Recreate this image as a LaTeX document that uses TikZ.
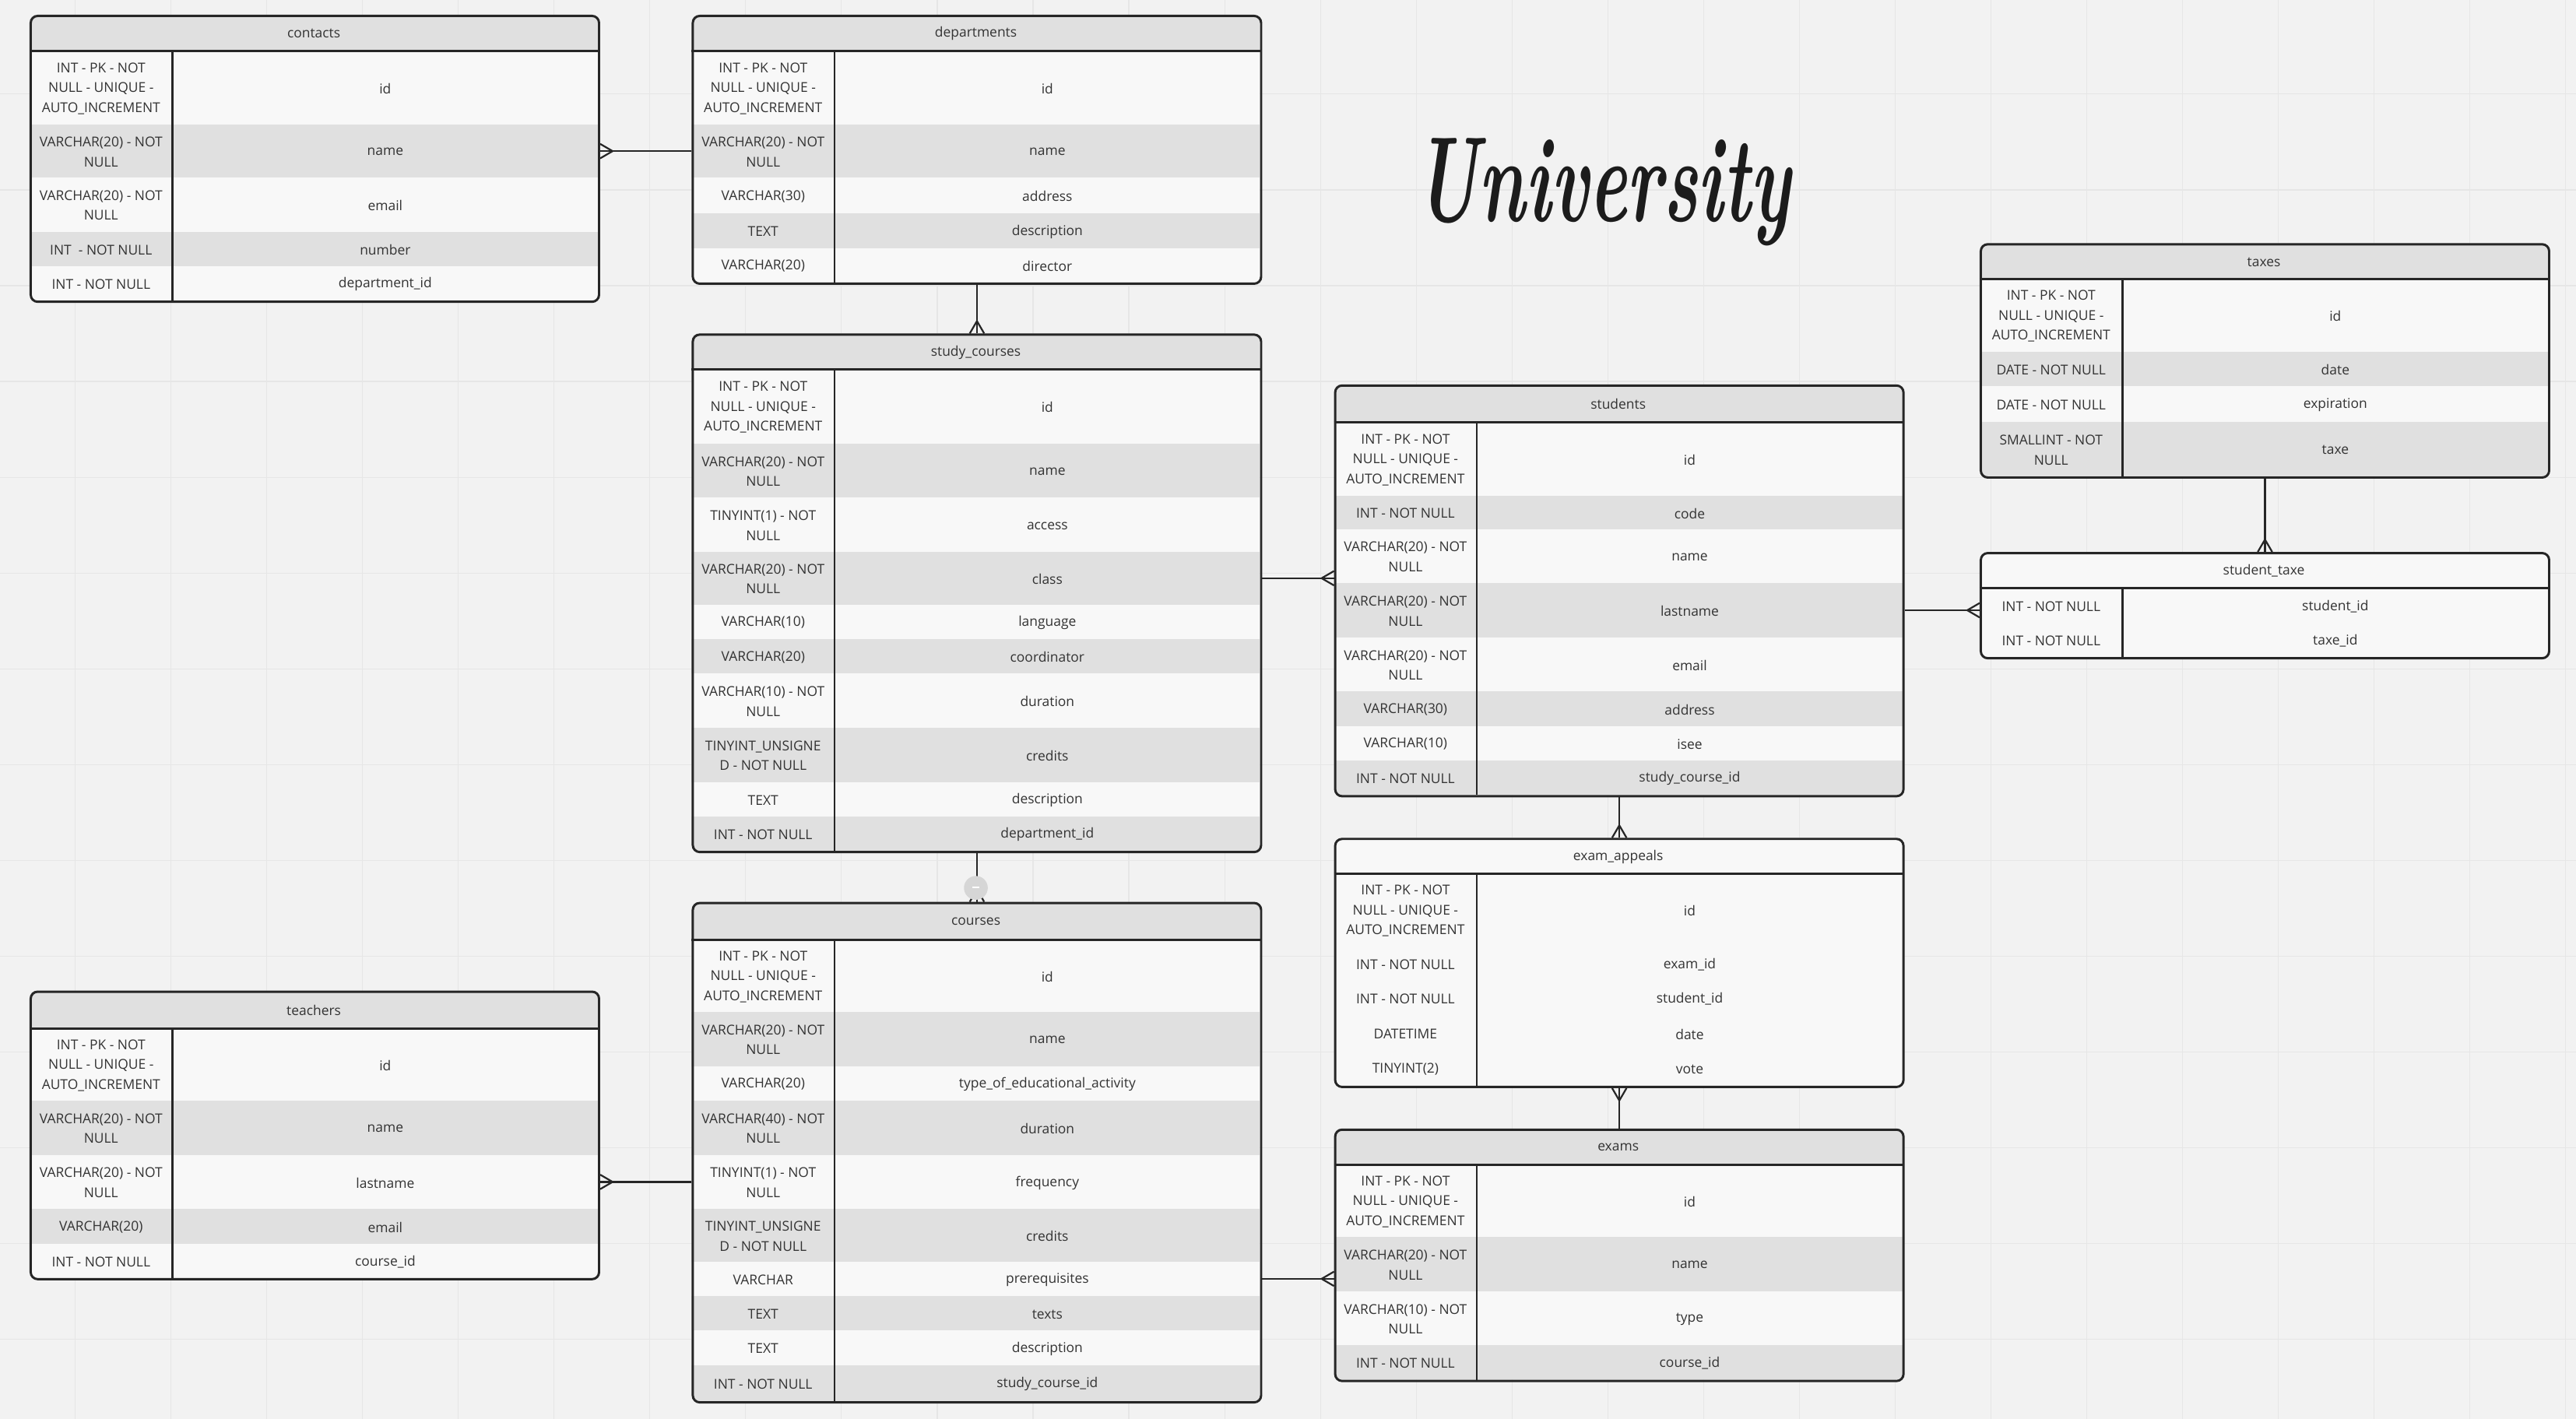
\documentclass[tikz,border=0pt]{standalone}
\usepackage{fontspec}
\usepackage{graphicx}
\newfontfamily\osans{Open Sans}
\usetikzlibrary{arrows.meta}
\definecolor{bg}{HTML}{F2F2F2}
\definecolor{gridc}{HTML}{E6E6E6}
\definecolor{rowA}{HTML}{F8F8F8}
\definecolor{rowB}{HTML}{E0E0E0}
\definecolor{border}{HTML}{262626}
\definecolor{txtc}{HTML}{333333}
\definecolor{titlec}{HTML}{1C1C1C}
\definecolor{handlec}{HTML}{D6D6D6}

\pgfdeclarearrow{
  name = Crow,
  parameters = {\the\pgfarrowlength,\the\pgfarrowwidth},
  setup code = {
    \pgfarrowssettipend{0pt}
    \pgfarrowssetlineend{0pt}
    \pgfarrowssetbackend{-\pgfarrowlength}
    \pgfarrowssavethe\pgfarrowlength
    \pgfarrowssavethe\pgfarrowwidth
  },
  drawing code = {
    \pgfsetdash{}{0pt}
    \pgfpathmoveto{\pgfqpoint{-\pgfarrowlength}{0pt}}
    \pgfpathlineto{\pgfqpoint{0pt}{.5\pgfarrowwidth}}
    \pgfpathmoveto{\pgfqpoint{-\pgfarrowlength}{0pt}}
    \pgfpathlineto{\pgfqpoint{0pt}{-.5\pgfarrowwidth}}
    \pgfusepathqstroke
  },
  defaults = {length = 4.3pt, width = 5pt}
}

\tikzset{
  cell/.style={font=\osans\fontsize{4.7}{6.9}\selectfont, text=txtc, align=center, inner sep=0pt, yshift=-0.3pt},
  tbl/.style={draw=border, line width=0.8pt, rounded corners=2.4pt, minimum width=6.92cm, inner sep=0pt},
  sepline/.style={draw=border, line width=0.8pt},
  divline/.style={draw=border, line width=0.65pt},
  conn/.style={draw=border, line width=0.6pt, -Crow},
  gridline/.style={draw=gridc, line width=0.3pt},
}

% #1 name, #2 x, #3 top, #4 header bottom, #5 bottom, #6 title, #7 header fill, #8 even-row fill, #9 rows
\newcommand{\erdtable}[9]{%
  \begin{scope}
    \clip[rounded corners=2.4pt] (#2,#3) rectangle ++(346,#5-#3);
    \fill[#7] (#2,#3) rectangle ++(346,#4-#3);
    \foreach \rA/\rB/\rT/\rF [count=\ri] in {#9} {
      \ifodd\ri\relax \def\rc{rowA}\else\def\rc{#8}\fi
      \fill[\rc] (#2,\rA) rectangle (#2+346,\rB);
      \coordinate (#1-r\ri) at (#2+173,{(\rA+\rB)/2});
      \node[cell] (#1-t\ri) at (#2+43.5,{(\rA+\rB)/2}) {\rT};
      \node[cell] (#1-f\ri) at (#2+216.5,{(\rA+\rB)/2}) {\rF};
    }
  \end{scope}
  \node[tbl, minimum height={(#5-#3)*0.02cm}, anchor=north west] (#1) at (#2,#3) {};
  \draw[sepline] (#2,#4) -- ++(346,0);
  \draw[divline] (#2+87,#4) -- (#2+87,#5);
  \node[cell] (#1-title) at (#2+173,{(#3+#4)/2}) {#6};
}

\begin{document}
\begin{tikzpicture}[x=0.02cm, y=-0.02cm]
\useasboundingbox (0,0) rectangle (1568,863.8);
\fill[bg] (0,0) rectangle (1568,863.8);
\foreach \g in {0,...,26} { \draw[gridline] ({45.8+58.3*\g},0) -- ({45.8+58.3*\g},863.8); }
\foreach \g in {0,...,14} { \draw[gridline] (0,{57.3+58.3*\g}) -- (1568,{57.3+58.3*\g}); }

\node[anchor=base, text=titlec] (title) at (976,135) {\scalebox{0.59}[1]{\fontsize{42}{42}\selectfont\bfseries\itshape University}};

\erdtable{contacts}{18}{9}{31}{183}{contacts}{rowB}{rowB}{
  31/76/INT - PK - NOT\\NULL - UNIQUE -\\AUTO\_INCREMENT/id,
  76/108/VARCHAR(20) - NOT\\NULL/name,
  108/141/VARCHAR(20) - NOT\\NULL/email,
  141/162/INT~~- NOT NULL/number,
  162/183/INT - NOT NULL/department\_id}

\erdtable{departments}{421}{9}{31}{172}{departments}{rowB}{rowB}{
  31/76/INT - PK - NOT\\NULL - UNIQUE -\\AUTO\_INCREMENT/id,
  76/108/VARCHAR(20) - NOT\\NULL/name,
  108/130/VARCHAR(30)/address,
  130/151/TEXT/description,
  151/172/VARCHAR(20)/director}

\erdtable{studycourses}{421}{203}{225}{518}{study\_courses}{rowB}{rowB}{
  225/270/INT - PK - NOT\\NULL - UNIQUE -\\AUTO\_INCREMENT/id,
  270/303/VARCHAR(20) - NOT\\NULL/name,
  303/336/TINYINT(1) - NOT\\NULL/access,
  336/368/VARCHAR(20) - NOT\\NULL/class,
  368/389/VARCHAR(10)/language,
  389/410/VARCHAR(20)/coordinator,
  410/443/VARCHAR(10) - NOT\\NULL/duration,
  443/476/TINYINT\_UNSIGNE\\D - NOT NULL/credits,
  476/497/TEXT/description,
  497/518/INT - NOT NULL/department\_id}

\erdtable{courses}{421}{549}{572}{853}{courses}{rowB}{rowB}{
  572/616/INT - PK - NOT\\NULL - UNIQUE -\\AUTO\_INCREMENT/id,
  616/649/VARCHAR(20) - NOT\\NULL/name,
  649/670/VARCHAR(20)/type\_of\_educational\_activity,
  670/703/VARCHAR(40) - NOT\\NULL/duration,
  703/736/TINYINT(1) - NOT\\NULL/frequency,
  736/768/TINYINT\_UNSIGNE\\D - NOT NULL/credits,
  768/789/VARCHAR/prerequisites,
  789/810/TEXT/texts,
  810/831/TEXT/description,
  831/853/INT - NOT NULL/study\_course\_id}

\erdtable{teachers}{18}{603}{626}{778}{teachers}{rowB}{rowB}{
  626/670/INT - PK - NOT\\NULL - UNIQUE -\\AUTO\_INCREMENT/id,
  670/703/VARCHAR(20) - NOT\\NULL/name,
  703/736/VARCHAR(20) - NOT\\NULL/lastname,
  736/757/VARCHAR(20)/email,
  757/778/INT - NOT NULL/course\_id}

\erdtable{students}{812}{234}{257}{484}{students}{rowB}{rowB}{
  257/302/INT - PK - NOT\\NULL - UNIQUE -\\AUTO\_INCREMENT/id,
  302/322/INT - NOT NULL/code,
  322/355/VARCHAR(20) - NOT\\NULL/name,
  355/388/VARCHAR(20) - NOT\\NULL/lastname,
  388/421/VARCHAR(20) - NOT\\NULL/email,
  421/442/VARCHAR(30)/address,
  442/463/VARCHAR(10)/isee,
  463/484/INT - NOT NULL/study\_course\_id}

\erdtable{examappeals}{812}{510}{532}{661}{exam\_appeals}{rowA}{rowA}{
  532/576/INT - PK - NOT\\NULL - UNIQUE -\\AUTO\_INCREMENT/id,
  576/597/INT - NOT NULL/exam\_id,
  597/618/INT - NOT NULL/student\_id,
  618/640/DATETIME/date,
  640/661/TINYINT(2)/vote}

\erdtable{exams}{812}{687}{709}{840}{exams}{rowB}{rowB}{
  709/753/INT - PK - NOT\\NULL - UNIQUE -\\AUTO\_INCREMENT/id,
  753/786/VARCHAR(20) - NOT\\NULL/name,
  786/819/VARCHAR(10) - NOT\\NULL/type,
  819/840/INT - NOT NULL/course\_id}

\erdtable{taxes}{1205}{148}{170}{290}{taxes}{rowB}{rowB}{
  170/214/INT - PK - NOT\\NULL - UNIQUE -\\AUTO\_INCREMENT/id,
  214/235/DATE - NOT NULL/date,
  235/257/DATE - NOT NULL/expiration,
  257/290/SMALLINT - NOT\\NULL/taxe}

\erdtable{studenttaxe}{1205}{336}{358}{400}{student\_taxe}{rowA}{rowA}{
  358/379/INT - NOT NULL/student\_id,
  379/400/INT - NOT NULL/taxe\_id}

% connectors
\draw[conn] (departments.west |- departments-r2) -- (contacts.east |- departments-r2);
\draw[conn] (departments.south) -- (studycourses.north);
\draw[conn] (studycourses.east |- studycourses-r4) -- (students.west |- studycourses-r4);
\draw[conn] (studycourses.south) -- (courses.north);
\draw[conn] (courses.west |- courses-r5) -- (teachers.east |- courses-r5);
\draw[conn] (courses.east |- courses-r7) -- (exams.west |- courses-r7);
\draw[conn] (students.south) -- (examappeals.north);
\draw[conn] (exams.north) -- (examappeals.south);
\draw[conn] (taxes.south) -- (studenttaxe.north);
\draw[conn] (students.east |- students-r4) -- (studenttaxe.west |- students-r4);

% hover handle
\node[circle, fill=handlec, inner sep=0pt, minimum size=0.29cm] (handle) at (594,540.5) {};
\draw[white, line width=0.4pt] ([xshift=-0.04cm,yshift=0.005cm]handle.center) -- ([xshift=0.04cm,yshift=0.005cm]handle.center);
\end{tikzpicture}
\end{document}
